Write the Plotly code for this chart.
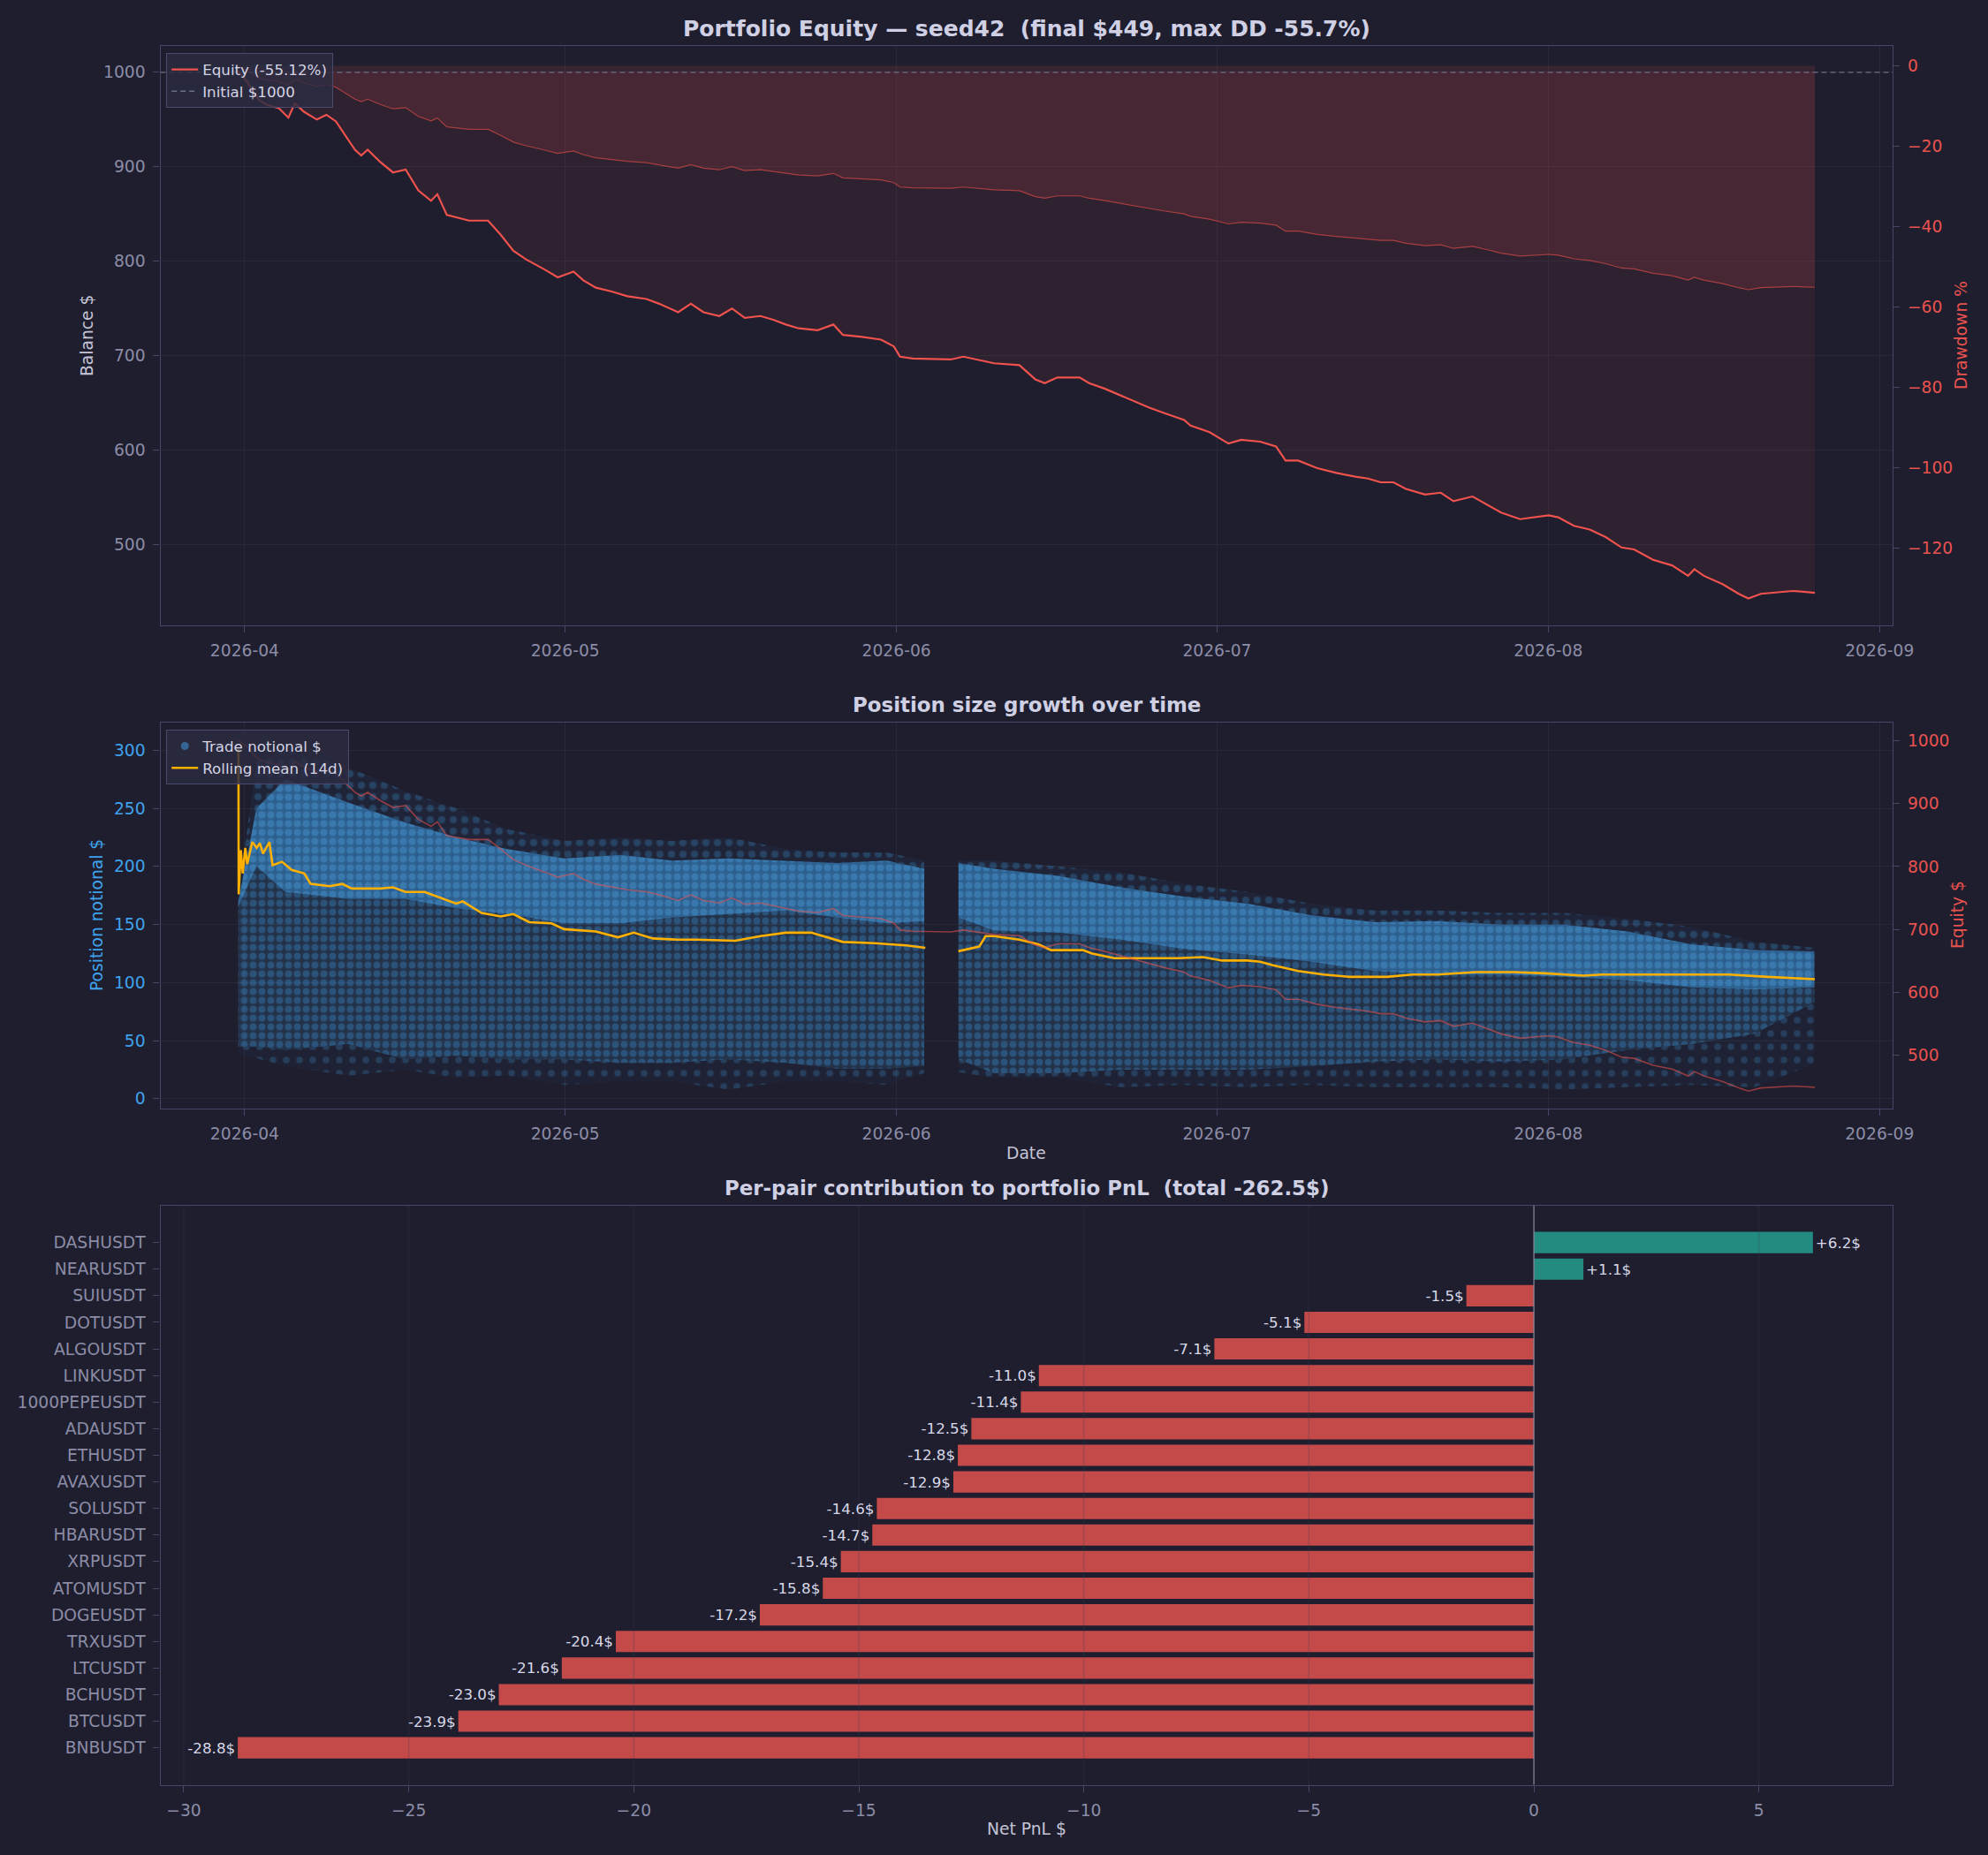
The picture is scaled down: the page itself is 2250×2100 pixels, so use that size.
import pandas as pd
import plotly.graph_objects as go

# ---------------------------------------------------------------- data
START = pd.Timestamp("2026-04-01")
INITIAL = 1000

# equity curve: days after 2026-04-01, balance $
eq_days = [-0.65, -0.36, 0.24, 0.83, 1.42, 2.02, 3.2, 4.09, 4.69, 5.58,
           6.76, 7.65, 8.54, 9.43, 10.32, 10.91, 11.51, 12.69, 13.88, 15.07,
           16.25, 17.44, 18.03, 18.92, 21.0, 22.78, 23.96, 25.15, 26.33, 28.11,
           29.3, 30.78, 31.67, 32.86, 34.34, 35.82, 37.6, 38.79, 40.57, 41.76,
           42.94, 44.42, 45.61, 46.8, 48.28, 49.47, 50.65, 51.84, 53.62, 55.1,
           55.99, 57.77, 59.55, 60.74, 61.33, 62.51, 66.07, 67.26, 69.04, 70.13,
           72.5, 73.99, 74.87, 76.06, 78.14, 79.03, 80.51, 82.0, 83.18, 84.66,
           86.14, 87.92, 88.52, 90.3, 92.07, 93.26, 95.04, 96.52, 97.41, 98.6,
           100.38, 102.16, 103.94, 105.12, 106.31, 107.5, 108.68, 110.46, 111.94, 113.13,
           114.91, 116.39, 117.58, 119.36, 120.54, 122.03, 122.92, 124.4, 125.88, 127.37,
           128.85, 130.03, 131.81, 133.59, 135.08, 135.67, 136.56, 138.34, 139.82, 140.72,
           141.9, 143.68, 144.87, 146.06, 146.95]
eq_vals = [1001, 998, 990, 978, 970, 966, 962, 952, 967, 958,
           950, 955, 948, 933, 918, 912, 918, 905, 894, 897,
           875, 864, 871, 849, 843, 843, 828, 811, 802, 791,
           783, 789, 780, 772, 768, 763, 760, 755, 746, 755,
           746, 742, 750, 740, 742, 738, 733, 729, 727, 733,
           722, 720, 717, 710, 699, 697, 696, 699, 695, 692,
           690, 675, 671, 677, 677, 671, 665, 658, 652, 645,
           639, 632, 626, 619, 607, 611, 609, 604, 589, 589,
           581, 576, 572, 570, 566, 566, 559, 553, 555, 546,
           551, 542, 534, 527, 529, 531, 529, 520, 516, 508,
           497, 495, 484, 478, 467, 474, 467, 458, 448, 443,
           448, 450, 451, 450, 449]

# 14-day rolling mean of trade notional (None = no trades)
rm_days = [-0.58, -0.56, -0.36, -0.18, 0.06, 0.24, 0.71, 1.13, 1.42, 1.72,
           2.31, 2.61, 3.5, 4.39, 5.58, 6.17, 7.95, 9.13, 10.02, 12.69,
           13.88, 15.07, 16.84, 18.62, 19.81, 20.4, 22.18, 23.96, 25.15, 26.63,
           28.71, 29.89, 32.86, 34.93, 36.42, 38.2, 40.57, 42.35, 45.91, 48.28,
           50.65, 53.02, 55.99, 58.96, 61.92, 63.7, 65.2, 66.79, 68.74, 69.34,
           70.13, 72.5, 74.28, 75.47, 78.43, 79.32, 81.4, 83.77, 87.33, 89.7,
           91.48, 93.85, 95.04, 96.23, 98.6, 100.97, 103.34, 106.9, 109.28, 111.65,
           115.21, 118.77, 121.73, 125.29, 127.07, 131.81, 135.37, 138.93, 142.49, 146.94]
rm_vals = [301, 176, 214, 194, 216, 202, 221, 216, 220, 211,
           221, 201, 204, 197, 194, 185, 183, 185, 181, 181,
           182, 178, 178, 172, 168, 170, 160, 157, 159, 152,
           151, 146, 144, 139, 143, 138, 137, 137, 136, 140,
           143, 143, 135, 134, 132, 130, None, 127, 131, 140,
           140, 137, 133, 128, 128, 125, 121, 121, 121, 122,
           119, 119, 118, 115, 110, 107, 105, 105, 107, 107,
           109, 109, 108, 106, 107, 107, 107, 107, 105, 103]

# envelope of the trade-notional point cloud
cloud_days = [-0.6, 1.1, 3.8, 9.7, 15, 19.8, 24.6, 29.9, 35.2, 40, 45.3, 50.7, 55.4, 60.1, 63.6, None,
              66.8, 70.1, 76.1, 82, 87.9, 93.9, 99.8, 105.7, 111.6, 117.6, 123.5, 129.4, 135.4, 141.3, 146.9]
cloud_hi = [175, 290, 300, 285, 265, 250, 232, 222, 225, 222, 225, 215, 212, 212, 205, None,
            205, 205, 200, 195, 185, 178, 168, 162, 162, 160, 160, 155, 148, 135, 130]
cloud_top = [170, 250, 275, 255, 238, 225, 215, 207, 210, 205, 207, 205, 203, 205, 198, None,
             203, 198, 192, 182, 174, 168, 158, 152, 153, 150, 150, 144, 133, 128, 127]
cloud_core = [165, 200, 178, 172, 172, 164, 159, 151, 151, 156, 159, 162, 156, 151, 153, None,
              156, 145, 143, 137, 129, 124, 118, 110, 107, 107, 105, 102, 96, 94, 96]
cloud_mid = [45, 45, 42, 47, 34, 37, 34, 34, 31, 31, 34, 31, 26, 26, 28, None,
             34, 22, 22, 25, 25, 25, 28, 32, 34, 32, 34, 42, 47, 56, 83]
cloud_bot = [38, 35, 28, 20, 25, 18, 20, 12, 15, 15, 8, 15, 15, 12, 22, None,
             23, 18, 18, 10, 12, 10, 12, 10, 10, 10, 8, 10, 12, 10, 30]

pairs = ["DASHUSDT", "NEARUSDT", "SUIUSDT", "DOTUSDT", "ALGOUSDT", "LINKUSDT",
         "1000PEPEUSDT", "ADAUSDT", "ETHUSDT", "AVAXUSDT", "SOLUSDT", "HBARUSDT",
         "XRPUSDT", "ATOMUSDT", "DOGEUSDT", "TRXUSDT", "LTCUSDT", "BCHUSDT",
         "BTCUSDT", "BNBUSDT"]
pnl = [6.2, 1.1, -1.5, -5.1, -7.1, -11.0, -11.4, -12.5, -12.8, -12.9, -14.6, -14.7,
       -15.4, -15.8, -17.2, -20.4, -21.6, -23.0, -23.9, -28.8]
pnl_ticks = [-30, -25, -20, -15, -10, -5, 0, 5]

# ---------------------------------------------------------------- style
BG = "#1e1e2e"
SPINE = "#464668"
TICK = "#8c8ca6"
TXT = "#cfd0e4"
GRID = "#282839"
RED = "#f0524d"
BLUE = "#40a2ec"
YEL = "#ffb000"
FONT = "DejaVu Sans"
W, H = 2250, 2100

X0, X1 = 181.5 / W, 2142 / W
TOP_D = [1 - 707.5 / H, 1 - 51.9 / H]
MID_D = [1 - 1254.6 / H, 1 - 817.5 / H]
BOT_D = [1 - 2020.5 / H, 1 - 1364.8 / H]
XC = (X0 + X1) / 2
DATE_RANGE = ["2026-03-24 02:40", "2026-09-02 05:15"]


def to_dates(days):
    return [None if d is None else START + pd.Timedelta(days=d) for d in days]


eq_dates = to_dates(eq_days)
peak, dd = -1e9, []
for v in eq_vals:
    peak = max(peak, v)
    dd.append((v / peak - 1) * 100)

fig = go.Figure()

# ---------------------------------------------------------------- top panel
fig.add_trace(go.Scatter(x=eq_dates, y=[INITIAL] * len(eq_vals), mode="lines",
                         line=dict(width=0), showlegend=False, hoverinfo="skip",
                         xaxis="x", yaxis="y"))
fig.add_trace(go.Scatter(x=eq_dates, y=eq_vals, mode="lines", line=dict(width=0),
                         fill="tonexty", fillcolor="rgba(240,82,77,0.08)",
                         showlegend=False, hoverinfo="skip", xaxis="x", yaxis="y"))
fig.add_trace(go.Scatter(x=eq_dates, y=eq_vals, mode="lines",
                         line=dict(color=RED, width=2.2),
                         name="Equity (-55.12%)", legend="legend", xaxis="x", yaxis="y"))
fig.add_trace(go.Scatter(x=[None], y=[None], mode="lines",
                         line=dict(color="#6c6f88", width=1.4, dash="6px,4px"),
                         name="Initial $1000", legend="legend", xaxis="x", yaxis="y"))
fig.add_trace(go.Scatter(x=eq_dates, y=dd, mode="lines",
                         line=dict(color="rgba(240,82,77,0.6)", width=1.2),
                         fill="tozeroy", fillcolor="rgba(240,82,77,0.13)",
                         showlegend=False, xaxis="x", yaxis="y2"))

# ---------------------------------------------------------------- middle panel
segs, cur = [], []
for i, d in enumerate(cloud_days):
    if d is None:
        segs.append(cur)
        cur = []
    else:
        cur.append(i)
segs.append(cur)


def band(idx, lower, upper, **kw):
    d = to_dates([cloud_days[i] for i in idx])
    lo = [lower[i] for i in idx]
    hi = [upper[i] for i in idx]
    fig.add_trace(go.Scatter(x=d + d[::-1], y=hi + lo[::-1], mode="lines",
                             line=dict(width=0), fill="toself", showlegend=False,
                             hoverinfo="skip", xaxis="x2", yaxis="y3", **kw))


for idx in segs:
    band(idx, cloud_bot, cloud_mid, fillcolor="rgba(64,162,236,0.03)",
         fillpattern=dict(shape=".", fgcolor="rgba(64,162,236,0.45)",
                          bgcolor="rgba(64,162,236,0.03)", size=15, solidity=0.2))
    band(idx, cloud_top, cloud_hi, fillcolor="rgba(64,162,236,0.05)",
         fillpattern=dict(shape=".", fgcolor="rgba(64,162,236,0.5)",
                          bgcolor="rgba(64,162,236,0.05)", size=13, solidity=0.3))
    band(idx, cloud_mid, cloud_core, fillcolor="rgba(64,162,236,0.14)",
         fillpattern=dict(shape=".", fgcolor="rgba(64,162,236,0.62)",
                          bgcolor="rgba(64,162,236,0.14)", size=10, solidity=0.5))
    band(idx, cloud_core, cloud_top, fillcolor="rgba(60,158,232,0.55)",
         fillpattern=dict(shape=".", fgcolor="rgba(82,180,250,0.6)",
                          bgcolor="rgba(60,158,232,0.52)", size=10, solidity=0.5))

fig.add_trace(go.Scatter(x=[None], y=[None], mode="markers",
                         marker=dict(color="rgba(64,162,236,0.5)", size=9),
                         name="Trade notional $", legend="legend2", xaxis="x2", yaxis="y3"))
fig.add_trace(go.Scatter(x=to_dates(rm_days), y=rm_vals, mode="lines",
                         line=dict(color=YEL, width=2.6), connectgaps=False,
                         name="Rolling mean (14d)", legend="legend2", xaxis="x2", yaxis="y3"))
fig.add_trace(go.Scatter(x=eq_dates, y=eq_vals, mode="lines",
                         line=dict(color="rgba(240,82,77,0.55)", width=1.6),
                         showlegend=False, xaxis="x2", yaxis="y4"))

# ---------------------------------------------------------------- bottom panel
fig.add_trace(go.Bar(y=pairs, x=pnl, orientation="h", width=0.8,
                     marker=dict(color=["#238b82" if v > 0 else "#c44a4a" for v in pnl],
                                 line=dict(width=0)),
                     text=[f"{v:+.1f}$" for v in pnl], textposition="outside",
                     textfont=dict(size=16.7, color="#d8d8e8", family=FONT),
                     cliponaxis=False, constraintext="none",
                     showlegend=False, xaxis="x3", yaxis="y5"))

# ---------------------------------------------------------------- layout
base = dict(showline=True, linecolor=SPINE, linewidth=1.3, ticks="outside", ticklen=7,
            tickcolor=SPINE, tickwidth=1.2, tickfont=dict(size=18.7, color=TICK, family=FONT),
            automargin=False, zeroline=False, ticklabelstandoff=5)
date_ax = dict(base, type="date", range=DATE_RANGE, tickformat="%Y-%m", dtick="M1",
               tick0="2026-04-01", showgrid=True, gridcolor=GRID, gridwidth=1, mirror=True)
leg = dict(x=188 / W, xanchor="left", yanchor="top", traceorder="normal",
           bgcolor="rgba(44,44,66,0.82)", bordercolor="#4a4a6c", borderwidth=1.2,
           font=dict(size=16.7, color="#d4d4e4", family=FONT), tracegroupgap=0)

layout = dict(
    width=W, height=H, paper_bgcolor=BG, plot_bgcolor=BG,
    margin=dict(l=0, r=0, t=0, b=0), font=dict(family=FONT, color=TXT),
    xaxis=dict(date_ax, domain=[X0, X1], anchor="y"),
    yaxis=dict(base, domain=TOP_D, anchor="x", range=[415, 1028], dtick=100,
               showgrid=True, gridcolor=GRID),
    yaxis2=dict(base, overlaying="y", side="right", anchor="x", range=[-139.25, 5],
                dtick=20, showgrid=False,
                tickfont=dict(size=18.7, color="#e8524f", family=FONT)),
    xaxis2=dict(date_ax, domain=[X0, X1], anchor="y3"),
    yaxis3=dict(base, domain=MID_D, anchor="x2", range=[-8.1, 324.2], dtick=50,
                showgrid=True, gridcolor=GRID,
                tickfont=dict(size=18.7, color=BLUE, family=FONT)),
    yaxis4=dict(base, overlaying="y3", side="right", anchor="x2", range=[415.7, 1029.6],
                dtick=100, showgrid=False,
                tickfont=dict(size=18.7, color="#e8524f", family=FONT)),
    xaxis3=dict(base, domain=[X0, X1], anchor="y5", range=[-30.52, 7.97],
                tickvals=pnl_ticks, showgrid=False, mirror=True),
    yaxis5=dict(base, domain=BOT_D, anchor="x3", type="category",
                categoryorder="array", categoryarray=pairs,
                range=[len(pairs) - 1 + 1.39, -1.39], showgrid=False, mirror=True),
    legend=dict(leg, y=1 - 60 / H),
    legend2=dict(leg, y=1 - 826 / H),
    bargap=0.2,
)
fig.update_layout(**layout)

# reference lines
shapes = [dict(type="line", xref="x domain", x0=0, x1=1, yref="y", y0=INITIAL, y1=INITIAL,
               line=dict(color="#6c6f88", width=1.4, dash="6px,4px"), layer="above")]
for t in pnl_ticks:
    if t != 0:
        shapes.append(dict(type="line", xref="x3", x0=t, x1=t, yref="y5 domain", y0=0, y1=1,
                           line=dict(color="rgba(60,60,82,0.28)", width=1.3), layer="above"))
shapes.append(dict(type="line", xref="x3", x0=0, x1=0, yref="y5 domain", y0=0, y1=1,
                   line=dict(color="#8a8aa2", width=1.2), layer="above"))
fig.update_layout(shapes=shapes)


# titles and axis labels
def note(text, x, y, size, color, angle=0, bold=False):
    fig.add_annotation(text=f"<b>{text}</b>" if bold else text, x=x, y=y,
                       xref="paper", yref="paper", showarrow=False, textangle=angle,
                       xanchor="center", yanchor="middle",
                       font=dict(size=size, color=color, family=FONT))


note("Portfolio Equity — seed42 \u00a0(final $449, max DD -55.7%)", XC, 1 - 32 / H, 25, TXT, bold=True)
note("Position size growth over time", XC, 1 - 797.5 / H, 22.9, TXT, bold=True)
note("Per-pair contribution to portfolio PnL \u00a0(total -262.5$)", XC, 1 - 1345 / H, 22.9, TXT, bold=True)
note("Balance $", 98 / W, 1 - 380 / H, 18.7, "#c4c4d6", angle=-90)
note("Drawdown %", 2219 / W, 1 - 380 / H, 18.7, "#e8524f", angle=-90)
note("Position notional $", 109 / W, 1 - 1036 / H, 18.7, BLUE, angle=-90)
note("Equity $", 2215 / W, 1 - 1036 / H, 18.7, "#e8524f", angle=-90)
note("Date", XC, 1 - 1305.7 / H, 18.7, "#c4c4d6")
note("Net PnL $", XC, 1 - 2070 / H, 18.7, "#c4c4d6")

fig.write_html("out.html", config={"displayModeBar": False},
               post_script="document.body.style.margin='0';"
                           "document.body.style.background='#1e1e2e';"
                           "document.body.style.overflow='hidden';")
